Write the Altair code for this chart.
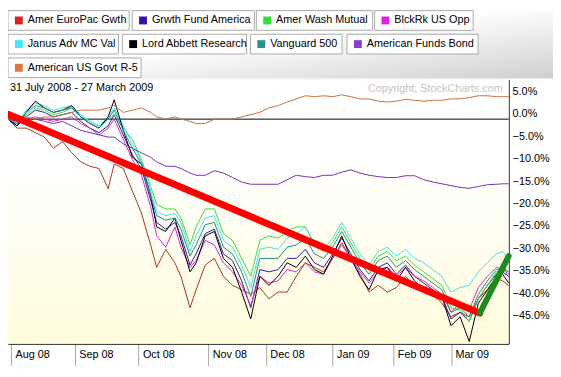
import altair as alt
import pandas as pd

# ---------------- data ----------------
days = [0, 3, 6, 9, 12, 15, 18, 21, 24, 27,
        30, 33, 35, 38, 41, 44, 47, 49, 52, 55,
        57, 60, 62, 65, 68, 71, 74, 77, 80, 83,
        86, 89, 92, 95, 98, 101, 104, 107, 110, 113,
        116, 119, 122, 125, 128, 131, 134, 137, 140, 143,
        146, 149, 152, 155, 158, 161, 163, 165]

funds = ["Amer EuroPac Gwth", "Grwth Fund America", "Amer Wash Mutual", "BlckRk US Opp",
         "Janus Adv MC Val", "Lord Abbett Research", "Vanguard 500", "American Funds Bond",
         "American US Govt R-5"]
line_colors = ["#A8361E", "#2A1C9C", "#3ED83E", "#E020D8",
               "#40E0F0", "#000000", "#1E8C8C", "#7A2EB0", "#C8703A"]
legend_colors = ["#E02020", "#3A10A8", "#33E033", "#E020E0",
                 "#40E8F8", "#000000", "#2A9090", "#8A3CD0", "#E07840"]

europac = [0, -2, -2, -3, -4, -6.5, -5, -7.5, -9.5, -10.5,
           -11, -15.5, -10, -11, -16, -21, -28, -33, -29, -32,
           -35, -42, -38, -32.5, -31, -35, -37, -38, -39, -37.5,
           -40, -38.5, -38.5, -35, -32, -33, -34, -31, -27.5, -31,
           -34.5, -38.5, -37, -38.5, -37.5, -35, -37, -38.5, -39, -41,
           -44, -43, -44, -40, -38, -35.5, -36, -37]
growth = [0, -1.5, 0.5, 2, 1.5, 0.5, 1, 1.5, -0.5, -2,
          -3, -1.5, 1, -3.5, -8, -11, -18, -23, -24.5, -23,
          -26, -32.5, -30, -25.5, -24.5, -30, -31.5, -36, -42, -33.5,
          -34, -33.5, -31, -31, -29, -32, -33, -30, -26.5, -30,
          -33.5, -36, -33, -32, -34.5, -32.5, -35, -36.5, -38, -39.5,
          -44.5, -43, -45, -40, -37, -34.5, -34, -35]
washmut = [0, -1, 1, 2.5, 2, 1, 1.5, 2.5, 0.5, -0.5,
           -1.5, 0, 1.0, -2, -4.5, -9, -15, -19, -20, -20,
           -22, -28, -24, -20, -20, -25.5, -27, -31, -35, -27,
           -26, -26.5, -25, -24, -24, -28, -29.5, -27.5, -24, -27.5,
           -31, -33.5, -30.5, -29.5, -31.5, -30.5, -32.5, -34, -35.5, -37,
           -42, -42.5, -45, -40, -37, -34, -33.5, -34]
blckrk = [0, -1, 0, 0.5, 0, -0.5, 0, 0.5, -1, -2,
          -3.5, -2, 0, -4.5, -9, -12.5, -19.5, -26, -28.5, -24,
          -28.5, -33, -31.5, -27, -28, -32, -34, -37, -41.5, -35,
          -36.5, -36, -33.5, -34, -32, -34, -34.5, -31, -28, -31,
          -34, -36.5, -34, -33, -35, -33, -35, -36, -37.5, -39,
          -43, -41, -42.5, -37.5, -35, -33, -33.5, -34.5]
janus = [0, -1, 2, 3.5, 3, 2, 2.5, 3, 1, -0.5,
         -1.5, 0.5, 2.5, -1.5, -5.5, -9.5, -16, -20.5, -21.5, -21,
         -23, -29.5, -26, -22, -21.5, -27, -28.5, -32.5, -37.5, -29,
         -28.5, -29, -26.5, -25.5, -24, -27.5, -29, -26.5, -23, -26.5,
         -30, -32.5, -29.5, -28.5, -30.5, -29, -31, -32, -33.5, -35,
         -38.5, -37.5, -37, -34, -32, -30, -29.5, -31]
lordabbett = [0, -1.5, 1.5, 4.0, 2.5, 1.5, 2.0, 3.0, 0.5, -1.0,
              -2.0, 0.5, 4.3, -2.5, -8.5, -10, -17, -24, -25, -22,
              -27, -34, -32, -26, -25, -31, -33, -38.5, -44.5, -35,
              -37, -35, -32, -33, -30.5, -33.5, -34.5, -30.5, -26, -31,
              -35, -38, -33.5, -33, -36, -33, -36, -38, -38, -39.5,
              -46, -44, -49.5, -41, -38, -35, -34.5, -36.5]
vanguard = [0, -1, 1.5, 3, 2.5, 1.5, 2, 2.5, 0.5, -1,
            -2, 0, 2, -2.5, -6.5, -10, -17, -21.5, -22.5, -22,
            -24.5, -30.5, -28, -23.5, -23, -28.5, -30, -34, -39.5, -31,
            -31, -31, -28.5, -28, -26.5, -30, -31, -28.5, -25, -28.5,
            -32, -34.5, -31.5, -30.5, -33, -31.5, -33.5, -35, -36.5, -38,
            -43, -42, -44, -39, -36, -33.5, -33, -34]
bond = [0, -0.5, 0, 0, -0.5, -1, -0.5, -1.5, -2.5, -3,
        -3.5, -4, -4, -5.5, -6.5, -7.5, -8.5, -9.5, -10.5, -10.5,
        -11, -12, -12.5, -12.5, -11.5, -12, -13, -14, -14.5, -14.5,
        -14.5, -14.5, -13.5, -12.5, -12.8, -13, -12.5, -12.5, -11.8, -11.3,
        -12, -12.5, -12.8, -13, -13, -12.6, -12.6, -13.5, -14, -14.4,
        -14.8, -15.2, -15.4, -15, -14.6, -14.5, -14.4, -14.4]
govt = [0, 0.5, 0.5, 0, 0.5, 0.5, 1, 1.5, 2, 2,
        2, 2.5, 3, 1.5, 2, 2.5, 1.5, 0.5, 0, 0.5,
        0, -0.5, -1, -1, 0, 0, 0, 0.5, 1, 1.5,
        2.5, 3, 3.8, 4.5, 5.2, 5, 5.2, 5, 5.4, 5,
        4.5, 4.5, 4, 3.8, 4, 4.4, 4.2, 4, 4.2, 4.2,
        4.5, 4.5, 4.8, 5.2, 5.2, 5, 5, 5]

series_values = [europac, growth, washmut, blckrk, janus, lordabbett, vanguard, bond, govt]

# drawn trend lines (start/end points in chart units)
down_days = [0, 155.5]
down_pct = [1.1, -43.2]
up_days = [155.5, 165]
up_pct = [-43.2, -30.5]

month_days = [1, 22, 43, 66, 85, 107, 127, 146]
month_labels = ["Aug 08", "Sep 08", "Oct 08", "Nov 08", "Dec 08", "Jan 09", "Feb 09", "Mar 09"]
pct_ticks = [5, 0, -5, -10, -15, -20, -25, -30, -35, -40, -45]

period_text = ["31 July 2008 - 27 March 2009"]
copyright_text = ["Copyright, StockCharts.com"]

# ---------------- layout of the button-style legend (pixels from plot origin) ----------------
legend_row = [0, 0, 0, 0, 1, 1, 1, 1, 2]
legend_box_left = [0, 126, 252, 372, 0, 116, 246, 344, 0]
legend_box_right = [123, 250, 370, 472, 112, 242, 339, 477, 135]
ROW_TOP = -70
ROW_PITCH = 24
BOX_H = 20

FONT = "Liberation Sans"

# ---------------- tables ----------------
rows = []
for k, (name, vals) in enumerate(zip(funds, series_values)):
    for d, v in zip(days, vals):
        rows.append({"day": d, "pct": v, "fund": name, "k": k})
df = pd.DataFrame(rows)

leg = pd.DataFrame({
    "fund": funds,
    "col": legend_colors,
    "bx0": legend_box_left,
    "bx1": legend_box_right,
    "by0": [ROW_TOP + r * ROW_PITCH for r in legend_row],
    "by1": [ROW_TOP + r * ROW_PITCH + BOX_H for r in legend_row],
})
leg["sx"] = leg["bx0"] + 11
leg["tx"] = leg["bx0"] + 20
leg["cy"] = (leg["by0"] + leg["by1"]) / 2

tick_df = pd.DataFrame({"v": pct_ticks})

down_df = pd.DataFrame({"day": down_days, "pct": down_pct})
up_df = pd.DataFrame({"day": up_days, "pct": up_pct})

label_expr = ""
for d, lab in zip(month_days, month_labels):
    label_expr += f"datum.value == {d} ? '{lab}' : "
label_expr += "''"

xscale = alt.Scale(domain=[0, 165], nice=False, zero=False)
yscale = alt.Scale(domain=[-50, 8.8], nice=False, zero=False)

x_axis = alt.Axis(values=month_days, labelExpr=label_expr, grid=False, title=None,
                  tickSize=22, tickColor="#a8a8a8", domainColor="#000000",
                  labelAlign="left", labelBaseline="top", labelPadding=-17, labelOffset=4,
                  labelOverlap=False,
                  labelFont=FONT, labelFontSize=11, labelColor="#000000")
y_axis = alt.Axis(orient="right", values=pct_ticks, labels=False,
                  grid=True, gridColor="#c2c2b8", ticks=False, domainColor="#000000",
                  title=None)

# ---------------- layers ----------------
plot_grad = alt.Gradient(gradient="linear", x1=0, y1=0, x2=0, y2=1,
                         stops=[alt.GradientStop(offset=0, color="#ffffff"),
                                alt.GradientStop(offset=0.3, color="#ffffff"),
                                alt.GradientStop(offset=1, color="#fffcdc")])
plot_bg = alt.Chart(pd.DataFrame({"a": [0]})).mark_rect(color=plot_grad).encode(
    x=alt.value(0), x2=alt.value(508), y=alt.value(0), y2=alt.value(268)
)

band_grad = alt.Gradient(gradient="linear", x1=0, y1=0, x2=1, y2=1,
                         stops=[alt.GradientStop(offset=0, color="#ffffff"),
                                alt.GradientStop(offset=0.45, color="#ffffff"),
                                alt.GradientStop(offset=1, color="#cfcfcf")])
band = alt.Chart(pd.DataFrame({"a": [0]})).mark_rect(color=band_grad).encode(
    x=alt.value(0), x2=alt.value(553), y=alt.value(-70), y2=alt.value(-1)
)

boxes = alt.Chart(leg).mark_rect(fill="#ffffff", stroke="#a9a9a9", strokeWidth=1).encode(
    x=alt.X("bx0:Q", scale=None), x2="bx1:Q",
    y=alt.Y("by0:Q", scale=None), y2="by1:Q",
)
squares = alt.Chart(leg).mark_square(size=64, opacity=1, filled=True).encode(
    x=alt.X("sx:Q", scale=None), y=alt.Y("cy:Q", scale=None),
    color=alt.Color("col:N", scale=None),
)
labels = alt.Chart(leg).mark_text(align="left", baseline="middle", font=FONT, fontSize=11,
                                  color="#000000").encode(
    x=alt.X("tx:Q", scale=None), y=alt.Y("cy:Q", scale=None), text="fund:N"
)

zero_rule = alt.Chart(pd.DataFrame({"pct": [0]})).mark_rule(color="#000000", strokeWidth=1).encode(
    y=alt.Y("pct:Q", scale=yscale, axis=y_axis)
)

lines = alt.Chart(df).mark_line(strokeWidth=1, strokeJoin="round").encode(
    x=alt.X("day:Q", scale=xscale, axis=x_axis),
    y=alt.Y("pct:Q", scale=yscale, axis=y_axis),
    color=alt.Color("fund:N", scale=alt.Scale(domain=funds, range=line_colors), legend=None),
    order=alt.Order("day:Q"),
    detail="k:N",
)

down = alt.Chart(down_df).mark_line(color="#FF0000", strokeWidth=7, strokeCap="round").encode(
    x=alt.X("day:Q", scale=xscale), y=alt.Y("pct:Q", scale=yscale)
)
up = alt.Chart(up_df).mark_line(color="#1E8A1E", strokeWidth=6, strokeCap="round").encode(
    x=alt.X("day:Q", scale=xscale), y=alt.Y("pct:Q", scale=yscale)
)

ylabels = alt.Chart(tick_df).transform_calculate(
    lab="format(datum.v, '.1f') + '%'"
).mark_text(align="left", baseline="bottom", font=FONT, fontSize=11, color="#000000",
            dx=4, dy=0).encode(
    x=alt.value(508), y=alt.Y("v:Q", scale=yscale), text="lab:N"
)

period = alt.Chart(pd.DataFrame({"t": period_text})).mark_text(
    align="left", baseline="middle", font=FONT, fontSize=11, color="#000000"
).encode(x=alt.value(2), y=alt.value(9), text="t:N")

copyright = alt.Chart(pd.DataFrame({"t": copyright_text})).mark_text(
    align="right", baseline="middle", font=FONT, fontSize=11, color="#c4c4c4"
).encode(x=alt.value(502), y=alt.value(10), text="t:N")

chart = alt.layer(band, boxes, squares, labels, plot_bg, zero_rule, lines, down, up,
                  ylabels, period, copyright).properties(
    width=508, height=268,
    padding={"left": 0, "top": 70, "right": 45, "bottom": 23},
    autosize=alt.AutoSizeParams(type="none"),
).configure_view(stroke=None).configure(background="#ffffff")

chart.save("out.html", embed_options={"renderer": "svg", "actions": False})
